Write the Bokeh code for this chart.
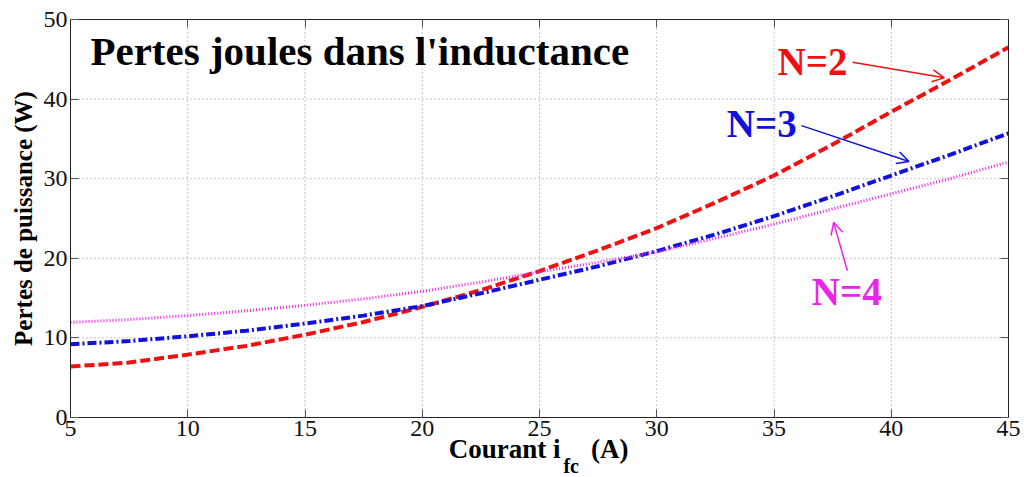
from bokeh.plotting import figure
from bokeh.models import (LinearAxis, Label, Arrow, OpenHead, FixedTicker,
                          Range1d)
from bokeh.embed import file_html
from bokeh.resources import INLINE

# ---- data ----
courant = [5, 7.5, 10, 12.5, 15, 17.5, 20, 22.5, 25, 27.5, 30, 32.5, 35, 37.5, 40, 42.5, 45]
pertes_n2 = [6.4, 6.9, 7.9, 9.0, 10.4, 12.0, 13.9, 16.0, 18.4, 21.0, 23.8, 27.0, 30.4, 34.3, 38.4, 42.4, 46.5]
pertes_n3 = [9.2, 9.6, 10.2, 10.9, 11.8, 12.8, 14.0, 15.6, 17.3, 19.0, 20.9, 23.0, 25.3, 27.8, 30.4, 33.0, 35.7]
pertes_n4 = [11.95, 12.3, 12.8, 13.4, 14.1, 14.9, 15.85, 17.0, 18.3, 19.5, 20.8, 22.5, 24.3, 26.2, 28.1, 30.0, 32.1]

x_ticks = [5, 10, 15, 20, 25, 30, 35, 40, 45]
y_ticks = [0, 10, 20, 30, 40, 50]
x_min, x_max = 5, 45
y_min, y_max = 0, 50

title_text = "Pertes joules dans l'inductance"
y_label = "Pertes de puissance (W)"
x_label_parts = ["Courant i", "fc", "(A)"]
series_labels = ["N=2", "N=3", "N=4"]
series_colors = ["#ee1111", "#1111dd", "#ee22ee"]

SERIF = "Liberation Serif"

# The frame covers the whole canvas; axes are pinned at the data box edges
# so that every text (incl. the subscripted x title) is drawn unclipped.
W, H = 1024, 477
PAD_L, PAD_R, PAD_T, PAD_B = 70, 16, 19, 60
sx = (W - PAD_L - PAD_R) / (x_max - x_min)
sy = (H - PAD_T - PAD_B) / (y_max - y_min)
x_range = Range1d(x_min - PAD_L / sx, x_max + PAD_R / sx)
y_range = Range1d(y_min - PAD_B / sy, y_max + PAD_T / sy)

p = figure(width=W, height=H, output_backend="svg", toolbar_location=None,
           x_range=x_range, y_range=y_range,
           min_border_left=0, min_border_right=0, min_border_top=0,
           min_border_bottom=0)
p.background_fill_color = "white"
p.border_fill_color = "white"
p.outline_line_color = None
p.xgrid.visible = False
p.ygrid.visible = False

# dotted grid restricted to the data box
GRID = dict(line_color="#888888", line_dash="1 3", line_width=1)
p.segment(x0=x_ticks, y0=[y_min] * len(x_ticks), x1=x_ticks, y1=[y_max] * len(x_ticks), **GRID)
p.segment(x0=[x_min] * len(y_ticks), y0=y_ticks, x1=[x_max] * len(y_ticks), y1=y_ticks, **GRID)

def style_axis(ax, ticks, show_labels=True):
    ax.ticker = FixedTicker(ticks=ticks)
    ax.axis_line_color = "#222222"
    ax.major_tick_line_color = "#555555"
    ax.major_tick_in = 8
    ax.major_tick_out = 0
    ax.minor_tick_line_color = None
    ax.major_label_text_font = SERIF
    ax.major_label_text_font_size = "24px"
    ax.major_label_text_color = "#111111"
    ax.major_label_standoff = 3
    if not show_labels:
        ax.major_label_overrides = {t: "" for t in ticks}
        ax.major_label_standoff = 0

xaxis = p.xaxis[0]
style_axis(xaxis, x_ticks)
xaxis.fixed_location = y_min
xaxis.bounds = (x_min, x_max)

yaxis = p.yaxis[0]
style_axis(yaxis, y_ticks)
yaxis.fixed_location = x_min
yaxis.bounds = (y_min, y_max)
yaxis.axis_label = y_label
yaxis.axis_label_text_font = SERIF
yaxis.axis_label_text_font_style = "bold"
yaxis.axis_label_text_font_size = "25px"
yaxis.axis_label_text_color = "black"
yaxis.axis_label_standoff = 4

top_axis = LinearAxis(fixed_location=y_max, bounds=(x_min, x_max))
style_axis(top_axis, x_ticks, show_labels=False)
p.add_layout(top_axis, "above")
right_axis = LinearAxis(fixed_location=x_max, bounds=(y_min, y_max))
style_axis(right_axis, y_ticks, show_labels=False)
p.add_layout(right_axis, "right")

# curves
p.line(courant, pertes_n2, line_color=series_colors[0], line_width=4, line_dash="10 4")
p.line(courant, pertes_n3, line_color=series_colors[1], line_width=4, line_dash="9 3 2 3")
p.line(courant, pertes_n4, line_color=series_colors[2], line_width=3, line_dash="1 2")

# title inside the plot (anchor = bottom of the text box)
p.add_layout(Label(x=5.85, y=43.1, text=title_text, text_font=SERIF,
                   text_font_style="bold", text_font_size="41px", text_color="black"))

# series annotations: text position and arrow (start -> end) in data units
label_pos = [(35.15, 42.08), (32.99, 34.25), (36.61, 13.16)]
arrow_start = [(38.35, 44.63), (36.17, 36.67), (38.13, 18.44)]
arrow_end = [(42.26, 42.67), (40.76, 32.15), (37.54, 24.52)]
for txt, col, (lx, ly), (ax0, ay0), (ax1, ay1) in zip(series_labels, series_colors,
                                                       label_pos, arrow_start, arrow_end):
    p.add_layout(Label(x=lx, y=ly, text=txt, text_font=SERIF,
                       text_font_style="bold", text_font_size="39px", text_color=col))
    p.add_layout(Arrow(x_start=ax0, y_start=ay0, x_end=ax1, y_end=ay1,
                       line_color=col, line_width=1.5,
                       end=OpenHead(size=12, line_color=col, line_width=1.5)))

# x axis title with subscript: Courant i_fc (A)
xl_pos = [(25.9, -5.9), (26.02, -7.45), (27.2, -5.9)]
xl_align = ["right", "left", "left"]
xl_size = ["27px", "20px", "27px"]
for txt, (lx, ly), al, fs in zip(x_label_parts, xl_pos, xl_align, xl_size):
    p.add_layout(Label(x=lx, y=ly, text=txt, text_align=al,
                       text_font=SERIF, text_font_style="bold",
                       text_font_size=fs, text_color="black"))

open("out.html", "w").write(file_html(p, INLINE))
